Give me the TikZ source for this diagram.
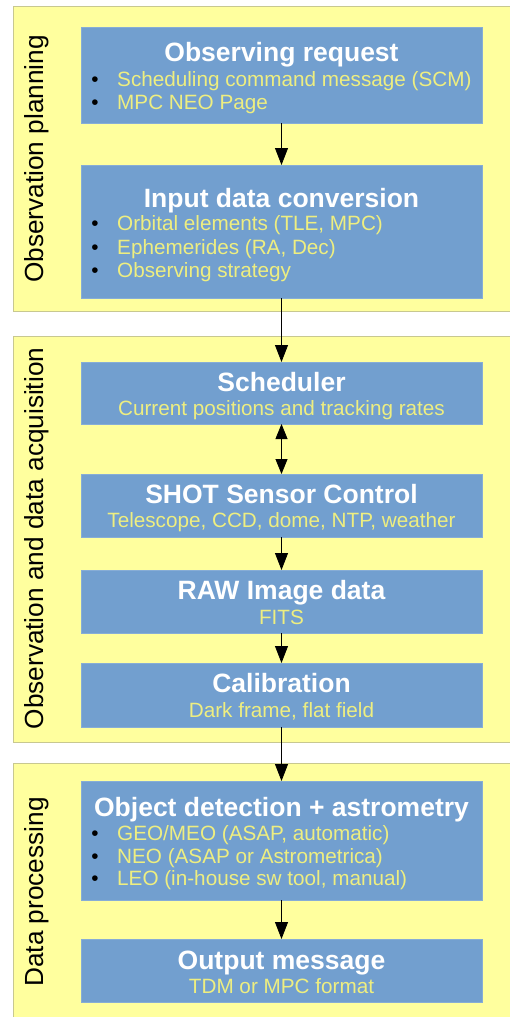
\documentclass[tikz,border=0pt]{standalone}
\usepackage{fontspec}
\setmainfont{Liberation Sans}
\usetikzlibrary{arrows.meta}
\definecolor{grpfill}{HTML}{FFFF9E}
\definecolor{grpline}{HTML}{C8C890}
\definecolor{boxfill}{HTML}{729FCF}
\definecolor{subyel}{HTML}{EEEE80}
\tikzset{
  grp/.style={fill=grpfill,draw=grpline,line width=0.8pt},
  blk/.style={fill=boxfill,draw=boxfill!85!white,line width=0.6pt,minimum width=401pt,inner sep=0pt,outer sep=0pt},
  ttl/.style={anchor=base,font=\fontsize{26.5}{28}\selectfont\bfseries,text=white,inner sep=0pt},
  sub/.style={anchor=base,font=\fontsize{20.7}{23}\selectfont,text=subyel,inner sep=0pt},
  itm/.style={anchor=base west,font=\fontsize{20.7}{23}\selectfont,text=subyel,inner sep=0pt},
  bul/.style={anchor=base,font=\fontsize{20.7}{23}\selectfont,text=black,inner sep=0pt},
  side/.style={anchor=base,rotate=90,font=\fontsize{26.2}{28}\selectfont,text=black,inner sep=0pt},
  arr/.style={line width=0.8pt,-{Triangle[length=17pt,width=13pt]}},
  darr/.style={line width=0.8pt,{Triangle[length=15pt,width=12pt]}-{Triangle[length=15pt,width=12pt]}}
}
\begin{document}
\begin{tikzpicture}[x=1pt,y=-1pt]
\useasboundingbox (0,0) rectangle (510,1017);
\fill[white] (0,0) rectangle (510,1017);
% groups
\draw[grp] (13,6) rectangle (520,311);
\draw[grp] (13,336) rectangle (520,742);
\draw[grp] (13,763) rectangle (520,1030);
\node[side] (s1) at (43,159) {Observation planning};
\node[side] (s2) at (43,538.5) {Observation and data acquisition};
\node[side] (s3) at (43,892) {Data processing};
% boxes
\node[blk,minimum height=96pt] (b1) at (281.5,75) {};
\node[blk,minimum height=133pt] (b2) at (281.5,231.5) {};
\node[blk,minimum height=62pt] (b3) at (281.5,393) {};
\node[blk,minimum height=63pt] (b4) at (281.5,505.5) {};
\node[blk,minimum height=63pt] (b5) at (281.5,601.5) {};
\node[blk,minimum height=64pt] (b6) at (281.5,695) {};
\node[blk,minimum height=119pt] (b7) at (281.5,840.5) {};
\node[blk,minimum height=63pt] (b8) at (281.5,970.5) {};
% box 1
\node[ttl] (t1) at (281.5,61.5) {Observing request};
\node[bul] (p11) at (95,86.5) {•};
\node[itm] (i11) at (117,86.5) {Scheduling command message (SCM)};
\node[bul] (p12) at (95,109.5) {•};
\node[itm] (i12) at (117,109.5) {MPC NEO Page};
% box 2
\node[ttl] (t2) at (281.5,207.5) {Input data conversion};
\node[bul] (p21) at (95,230.5) {•};
\node[itm] (i21) at (117,230.5) {Orbital elements (TLE, MPC)};
\node[bul] (p22) at (95,254) {•};
\node[itm] (i22) at (117,254) {Ephemerides (RA, Dec)};
\node[bul] (p23) at (95,277.5) {•};
\node[itm] (i23) at (117,277.5) {Observing strategy};
% box 3
\node[ttl] (t3) at (281.5,391.5) {Scheduler};
\node[sub] (u3) at (281.5,415.5) {Current positions and tracking rates};
% box 4
\node[ttl] (t4) at (281.5,503.5) {SHOT Sensor Control};
\node[sub] (u4) at (281.5,527.5) {Telescope, CCD, dome, NTP, weather};
% box 5
\node[ttl] (t5) at (281.5,599.5) {RAW Image data};
\node[sub] (u5) at (281.5,624) {FITS};
% box 6
\node[ttl] (t6) at (281.5,692.5) {Calibration};
\node[sub] (u6) at (281.5,717) {Dark frame, flat field};
% box 7
\node[ttl] (t7) at (281.5,816.5) {Object detection + astrometry};
\node[bul] (p71) at (95,840) {•};
\node[itm] (i71) at (117,840) {GEO/MEO (ASAP, automatic)};
\node[bul] (p72) at (95,863) {•};
\node[itm] (i72) at (117,863) {NEO (ASAP or Astrometrica)};
\node[bul] (p73) at (95,885.5) {•};
\node[itm] (i73) at (117,885.5) {LEO (in-house sw tool, manual)};
% box 8
\node[ttl] (t8) at (281.5,969.5) {Output message};
\node[sub] (u8) at (281.5,993) {TDM or MPC format};
% arrows
\draw[arr] (b1.south) -- (b2.north);
\draw[arr] (b2.south) -- (b3.north);
\draw[darr] (b3.south) -- (b4.north);
\draw[arr] (b4.south) -- (b5.north);
\draw[arr] (b5.south) -- (b6.north);
\draw[arr] (b6.south) -- (b7.north);
\draw[arr] (b7.south) -- (b8.north);
\end{tikzpicture}
\end{document}
